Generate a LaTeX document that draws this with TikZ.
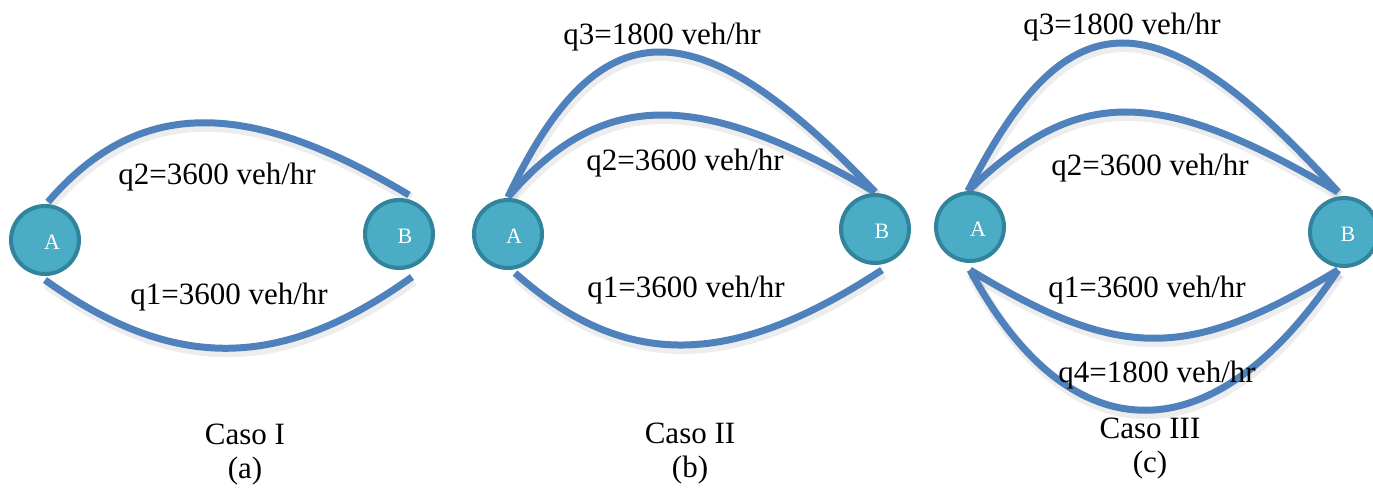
\documentclass[tikz,border=0pt]{standalone}
\usepackage{fontspec}
\setmainfont{Liberation Serif}
\usetikzlibrary{backgrounds}
\definecolor{roadblue}{HTML}{4F81BD}
\definecolor{sitefill}{HTML}{4BACC6}
\definecolor{siterim}{HTML}{31849B}
\tikzset{
  site/.style={circle, fill=sitefill, draw=siterim, line width=4pt,
    minimum size=68pt, inner sep=0pt, outer sep=0pt},
  sitename/.style={text=white, inner sep=0pt, font=\fontsize{22}{24}\selectfont},
  road/.style={draw=roadblue, line width=7pt,
    preaction={draw=black, opacity=0.07, line width=11pt,
      transform canvas={shift={(1.5pt,-3.5pt)}}}},
  flow/.style={inner sep=0pt, font=\fontsize{31}{34}\selectfont},
  casetitle/.style={inner sep=0pt, align=center, font=\fontsize{31}{34}\selectfont},
}
\begin{document}
\begin{tikzpicture}[x=1pt, y=-1pt]
\useasboundingbox (0,0) rectangle (1373,489);

% ---------- Caso I ----------
\node[site] (A1) at (45,240) {};
\node[site] (B1) at (399,234) {};
\node[sitename] (A1n) at ([shift={(7,2)}]A1.center) {A};
\node[sitename] (B1n) at ([shift={(6,2)}]B1.center) {B};
\begin{scope}[on background layer]
\draw[road] ([shift={(3,-38)}]A1.center) .. controls (140,95) and (250,100) .. ([shift={(10,-39)}]B1.center);
\draw[road] ([shift={(0,40)}]A1.center) .. controls (175,373) and (282,370) .. ([shift={(13,43)}]B1.center);
\end{scope}
\node[flow] (q2a) at (217,177) {q2=3600 veh/hr};
\node[flow] (q1a) at (229,297) {q1=3600 veh/hr};
\node[casetitle] (ca) at (245,455) {Caso I\\(a)};

% ---------- Caso II ----------
\node[site] (A2) at (508,234) {};
\node[site] (B2) at (875,229) {};
\node[sitename] (A2n) at ([shift={(6,2)}]A2.center) {A};
\node[sitename] (B2n) at ([shift={(7,2)}]B2.center) {B};
\begin{scope}[on background layer]
\draw[road] ([shift={(0,-37)}]A2.center) .. controls (598,7) and (695,2) .. ([shift={(0,-37)}]B2.center);
\draw[road] ([shift={(0,-37)}]A2.center) .. controls (603,87) and (700,90) .. ([shift={(0,-37)}]B2.center);
\draw[road] ([shift={(7,39)}]A2.center) .. controls (625,371) and (732,368) .. ([shift={(7,41)}]B2.center);
\end{scope}
\node[flow] (q3b) at (662,37) {q3=1800 veh/hr};
\node[flow] (q2b) at (685,163) {q2=3600 veh/hr};
\node[flow] (q1b) at (686,290) {q1=3600 veh/hr};
\node[casetitle] (cb) at (690,453.5) {Caso II\\(b)};

% ---------- Caso III ----------
\node[site] (A3) at (970,227) {};
\node[site] (B3) at (1344,232) {};
\node[sitename] (A3n) at ([shift={(8,2)}]A3.center) {A};
\node[sitename] (B3n) at ([shift={(4,2)}]B3.center) {B};
\begin{scope}[on background layer]
\draw[road] ([shift={(-2,-36)}]A3.center) .. controls (1068,-7) and (1158,-6) .. ([shift={(-6,-40)}]B3.center);
\draw[road] ([shift={(-2,-36)}]A3.center) .. controls (1078,85) and (1158,86) .. ([shift={(-6,-40)}]B3.center);
\draw[road] ([shift={(0,43)}]A3.center) .. controls (1120,361) and (1188,361) .. ([shift={(-6,38)}]B3.center);
\draw[road] ([shift={(0,43)}]A3.center) .. controls (1070,457) and (1214,457) .. ([shift={(-6,38)}]B3.center);
\end{scope}
\node[flow] (q3c) at (1122,27) {q3=1800 veh/hr};
\node[flow] (q2c) at (1150,168) {q2=3600 veh/hr};
\node[flow] (q1c) at (1147,290) {q1=3600 veh/hr};
\node[flow] (q4c) at (1157,375) {q4=1800 veh/hr};
\node[casetitle] (cc) at (1150,448.5) {Caso III\\(c)};
\end{tikzpicture}
\end{document}
